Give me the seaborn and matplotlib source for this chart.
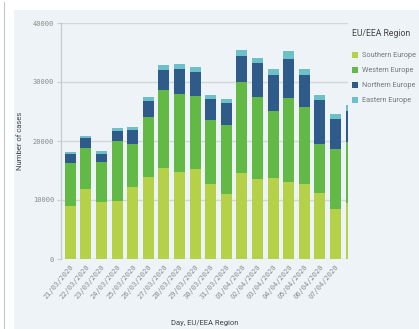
import matplotlib
matplotlib.use("Agg")
import matplotlib.pyplot as plt
import matplotlib.patches as mpatches
from matplotlib.lines import Line2D
import numpy as np
import pandas as pd
import seaborn as sns

# Daily reported cases by EU/EEA region
days = ["21/03/2020", "22/03/2020", "23/03/2020", "24/03/2020", "25/03/2020",
        "26/03/2020", "27/03/2020", "28/03/2020", "29/03/2020", "30/03/2020",
        "31/03/2020", "01/04/2020", "02/04/2020", "03/04/2020", "04/04/2020",
        "05/04/2020", "06/04/2020", "07/04/2020", "08/04/2020"]
southern = [9060, 11870, 9620, 9900, 12270, 13900, 15480, 14740, 15250, 12770,
            11090, 14580, 13510, 13790, 13110, 12660, 11260, 8390, 9450]
western = [7260, 6930, 6810, 10080, 7140, 10240, 13220, 13170, 12380, 10750,
           11700, 15470, 13900, 11310, 14240, 13060, 8270, 10180, 10360]
northern = [1410, 1630, 1300, 1690, 2370, 2700, 3320, 4280, 4050, 3550,
            3720, 4390, 5790, 6080, 6530, 5460, 7480, 5180, 5230]
eastern = [450, 390, 560, 500, 560, 620, 900, 840, 900, 790,
           560, 1010, 850, 1010, 1350, 1010, 850, 900, 1070]

regions = ["Southern Europe", "Western Europe", "Northern Europe", "Eastern Europe"]
colors = ["#b5d147", "#63b946", "#2f5b8a", "#6cc0c8"]
panel = "#edf3f7"

df = pd.DataFrame({"day": days, "Southern Europe": southern,
                   "Western Europe": western, "Northern Europe": northern,
                   "Eastern Europe": eastern})
cum = df[regions].cumsum(axis=1)

W, H = 419, 329
fig = plt.figure(figsize=(W / 100, H / 100), dpi=100, facecolor="white")
fig.patches.append(mpatches.Rectangle((14 / W, 0), 1, 1 - 10 / H,
                                      transform=fig.transFigure,
                                      facecolor=panel, edgecolor="none", zorder=-5))
fig.lines.append(Line2D([4 / W, 4 / W], [0, 1 - 2 / H], transform=fig.transFigure,
                        color="#c4c8cc", linewidth=0.8, zorder=-4))

ax = fig.add_axes([61 / W, 1 - 259 / H, (348 - 61) / W, (259 - 23) / H])
ax.set_facecolor(panel)

# stacked bars: draw cumulative totals from the top layer down
for region, color in reversed(list(zip(regions, colors))):
    sns.barplot(x=df["day"], y=cum[region], color=color, width=0.71,
                saturation=1, ax=ax, zorder=3)

ax.set_yticks([0, 10000, 20000, 30000, 40000])
ax.set_yticklabels(["0", "10000", "20000", "30000", "40000"])
ax.set_xticks(range(len(days)))
ax.set_xticklabels(days, rotation=50, ha="right", rotation_mode="anchor",
                   family="DejaVu Sans Mono", fontsize=5, color="#8a8a8a")
# the view ends partway through the last day's bar
ax.set_xlim(-0.6, 17.8)
ax.set_ylim(0, 40000)

ax.set_axisbelow(True)
ax.grid(axis="y", color="#d2d7db", linewidth=1)
ax.grid(axis="x", visible=False)
for s in ["top", "right", "bottom"]:
    ax.spines[s].set_visible(False)
ax.spines["left"].set_color("#c8cdd1")
ax.spines["left"].set_linewidth(1)

ax.tick_params(axis="y", length=3, color="#c8cdd1", labelsize=5,
               labelcolor="#8a8a8a", pad=2)
ax.tick_params(axis="x", length=0, labelsize=5, labelcolor="#8a8a8a", pad=3)
for lab in ax.get_yticklabels():
    lab.set_family("DejaVu Sans Mono")

ax.set_ylabel("Number of cases", fontsize=5.5, color="#444444", family="Roboto",
              labelpad=7)
ax.set_xlabel("")
fig.text(204.5 / W, 1 - 323 / H, "Day, EU/EEA Region", ha="center", va="center",
         fontsize=5.5, color="#444444", family="Roboto")

# legend: title placed separately, then the four colour keys
fig.text(352 / W, 1 - 34 / H, "EU/EEA Region", ha="left", va="center",
         fontsize=6.2, color="#444444", family="Roboto")
handles = [mpatches.Patch(facecolor=c, edgecolor="none", label=r)
           for r, c in zip(regions, colors)]
leg = fig.legend(handles=handles, loc="upper left",
                 bbox_to_anchor=(352 / W, 1 - 52 / H), frameon=False,
                 handlelength=0.85, handleheight=0.85, handletextpad=0.55,
                 labelspacing=1.05, fontsize=5.2,
                 borderpad=0, borderaxespad=0)
for t in leg.get_texts():
    t.set_color("#777777")
    t.set_family("Roboto")

fig.savefig("out.png", dpi=100, facecolor="white")
